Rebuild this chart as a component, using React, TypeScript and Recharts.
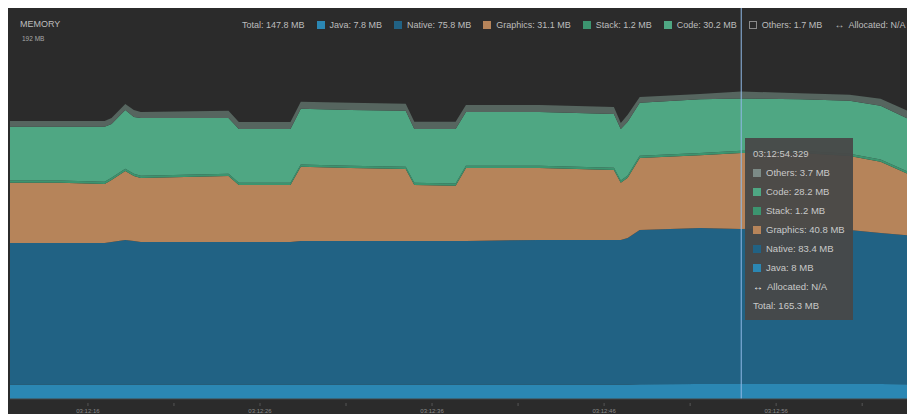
import { AreaChart, Area, XAxis, YAxis, ReferenceLine } from "recharts";

// seconds since the left edge of the view
const times = [0, 2.9, 5.5, 5.9, 6.7, 7.2, 7.6, 12.7, 13.3, 16.3, 16.9, 19.8, 23.0, 23.5, 25.9, 26.5, 30.8, 35.1, 35.5, 35.9, 36.6, 40.1, 42.5, 45.9, 48.8, 50.6, 52.6];

// MB per category, stacked bottom to top
const javaMb     = [7.8, 7.8, 7.8, 7.8, 7.8, 7.8, 7.8, 7.8, 7.8, 7.8, 7.8, 7.8, 7.8, 7.8, 7.8, 7.8, 7.8, 7.8, 7.8, 7.8, 7.9, 8.0, 8.0, 8.0, 8.0, 8.0, 7.9];
const nativeMb   = [76.1, 76.1, 76.1, 76.6, 77.7, 77.2, 76.6, 76.6, 76.6, 76.6, 77.2, 77.2, 77.2, 77.2, 77.2, 77.2, 77.7, 77.7, 77.7, 78.8, 83.0, 83.9, 83.4, 83.9, 82.9, 81.3, 79.7];
const graphicsMb = [32.3, 32.3, 31.7, 33.3, 37.1, 34.9, 34.4, 35.5, 30.6, 30.6, 39.8, 39.2, 38.7, 30.1, 29.6, 39.2, 38.7, 37.6, 30.7, 32.3, 38.7, 39.2, 40.8, 40.3, 39.8, 38.2, 31.7];
const stackMb    = [1.2, 1.2, 1.2, 1.2, 1.2, 1.2, 1.2, 1.2, 1.2, 1.2, 1.2, 1.2, 1.2, 1.2, 1.2, 1.2, 1.2, 1.2, 1.2, 1.2, 1.2, 1.2, 1.2, 1.2, 1.2, 1.2, 1.2];
const codeMb     = [28.9, 28.9, 29.5, 28.9, 31.6, 30.5, 31.1, 30.0, 28.9, 28.9, 30.0, 30.0, 30.0, 28.9, 29.4, 28.9, 28.9, 28.9, 27.8, 28.9, 28.4, 28.9, 28.2, 27.8, 28.4, 28.9, 28.4];
const othersMb   = [3.2, 3.2, 3.2, 3.2, 3.2, 3.8, 3.2, 3.8, 3.8, 3.8, 3.8, 3.8, 3.8, 3.8, 3.8, 3.8, 3.8, 3.8, 3.2, 3.8, 3.2, 2.7, 3.7, 3.2, 3.2, 3.8, 4.3];

const tickTimes  = [4.53, 9.53, 14.53, 19.53, 24.53, 29.53, 34.53, 39.53, 44.53, 49.53];
const tickLabels = ["03:12:16", "", "03:12:26", "", "03:12:36", "", "03:12:46", "", "03:12:56", ""];
const yTicks     = [64, 128];
const cursorTime = 42.5;

const legendNames  = ["Java", "Native", "Graphics", "Stack", "Code", "Others"];
const legendValues = ["7.8 MB", "75.8 MB", "31.1 MB", "1.2 MB", "30.2 MB", "1.7 MB"];
const legendTotal  = "147.8 MB";

const tooltipTime   = "03:12:54.329";
const tooltipNames  = ["Others", "Code", "Stack", "Graphics", "Native", "Java"];
const tooltipValues = ["3.7 MB", "28.2 MB", "1.2 MB", "40.8 MB", "83.4 MB", "8 MB"];
const tooltipTotal  = "165.3 MB";

const colors: Record<string, string> = {
  Java:     "#2b87b3",
  Native:   "#216284",
  Graphics: "#b6845a",
  Stack:    "#3c946f",
  Code:     "#4fa783",
  Others:   "#56655f",
};

const data = times.map((t, i) => ({
  t,
  Java:     javaMb[i],
  Native:   nativeMb[i],
  Graphics: graphicsMb[i],
  Stack:    stackMb[i],
  Code:     codeMb[i],
  Others:   othersMb[i],
}));

const FONT = '"Liberation Sans", Arial, sans-serif';

const TimeTick = ({ x, y, index }: any) => {
  const label = tickLabels[index] ?? "";
  return (
    <g>
      <line x1={x} x2={x} y1={y - 4} y2={y - 1} stroke="#555" />
      {label && (
        <text x={x} y={y + 6} fill="#8a8a8a" fontSize={6} textAnchor="middle" fontFamily={FONT}>
          {label}
        </text>
      )}
    </g>
  );
};

function Swatch({ color, hollow }: { color: string; hollow?: boolean }) {
  return (
    <span
      style={{
        display: "inline-block", width: 8, height: 8, marginRight: 5,
        background: hollow ? "transparent" : color,
        border: hollow ? `1px solid ${color}` : "none",
        boxSizing: "border-box",
      }}
    />
  );
}

export default function App() {
  return (
    <div style={{ position: "relative", width: 907, height: 406, background: "#2b2b2b", overflow: "hidden", fontFamily: FONT }}>
      <AreaChart width={907} height={406} data={data} margin={{ top: 0, right: 0, bottom: 0, left: 2 }}>
        <XAxis
          dataKey="t"
          type="number"
          domain={[0, 52.6]}
          ticks={tickTimes}
          tick={<TimeTick />}
          tickLine={false}
          axisLine={{ stroke: "#444" }}
          height={15}
          interval={0}
        />
        <YAxis
          type="number"
          domain={[0, 210.2]}
          allowDataOverflow
          ticks={yTicks}
          mirror
          width={0}
          tickSize={4}
          tickLine={{ stroke: "#9a9a9a" }}
          axisLine={{ stroke: "#1c1c1c", strokeWidth: 3 }}
          tick={{ fontSize: 7, fill: "#c8c8c8", fontFamily: FONT }}
        />
        {legendNames.map((name) => (
          <Area
            key={name}
            type="linear"
            dataKey={name}
            stackId="mem"
            stroke="none"
            fill={colors[name]}
            fillOpacity={1}
            dot={false}
            activeDot={false}
            isAnimationActive={false}
          />
        ))}
        <ReferenceLine x={cursorTime} stroke="#8fb9e6" strokeWidth={1} />
      </AreaChart>

      {/* header */}
      <div style={{ position: "absolute", left: 12, top: 11, fontSize: 9, color: "#bdbdbd" }}>MEMORY</div>
      <div style={{ position: "absolute", left: 14, top: 27, fontSize: 6.5, color: "#a8a8a8" }}>192 MB</div>

      {/* legend */}
      <div style={{ position: "absolute", left: 234, top: 11, display: "flex", alignItems: "center", gap: 12, fontSize: 9, color: "#bdbdbd", whiteSpace: "nowrap" }}>
        <span>Total: {legendTotal}</span>
        {legendNames.map((name, i) => (
          <span key={name} style={{ display: "flex", alignItems: "center" }}>
            <Swatch color={name === "Others" ? "#8a8a8a" : colors[name]} hollow={name === "Others"} />
            {name}: {legendValues[i]}
          </span>
        ))}
        <span style={{ display: "flex", alignItems: "center" }}>
          <span style={{ marginRight: 4, fontSize: 10 }}>↔</span>Allocated: N/A
        </span>
      </div>

      {/* hover tooltip */}
      <div
        style={{
          position: "absolute", left: 737, top: 130, width: 108, height: 182,
          background: "rgba(72,72,72,0.95)", color: "#c9c9c9", fontSize: 9.5,
          boxSizing: "border-box", padding: "6px 0 0 8px",
        }}
      >
        <div style={{ height: 19, display: "flex", alignItems: "center" }}>{tooltipTime}</div>
        {tooltipNames.map((name, i) => (
          <div key={name} style={{ height: 19, display: "flex", alignItems: "center" }}>
            <Swatch color={name === "Others" ? "#7c8a86" : colors[name]} />
            {name}: {tooltipValues[i]}
          </div>
        ))}
        <div style={{ height: 19, display: "flex", alignItems: "center" }}>
          <span style={{ marginRight: 4, fontSize: 10, color: "#fff" }}>↔</span>Allocated: N/A
        </div>
        <div style={{ height: 19, display: "flex", alignItems: "center" }}>Total: {tooltipTotal}</div>
      </div>
    </div>
  );
}
